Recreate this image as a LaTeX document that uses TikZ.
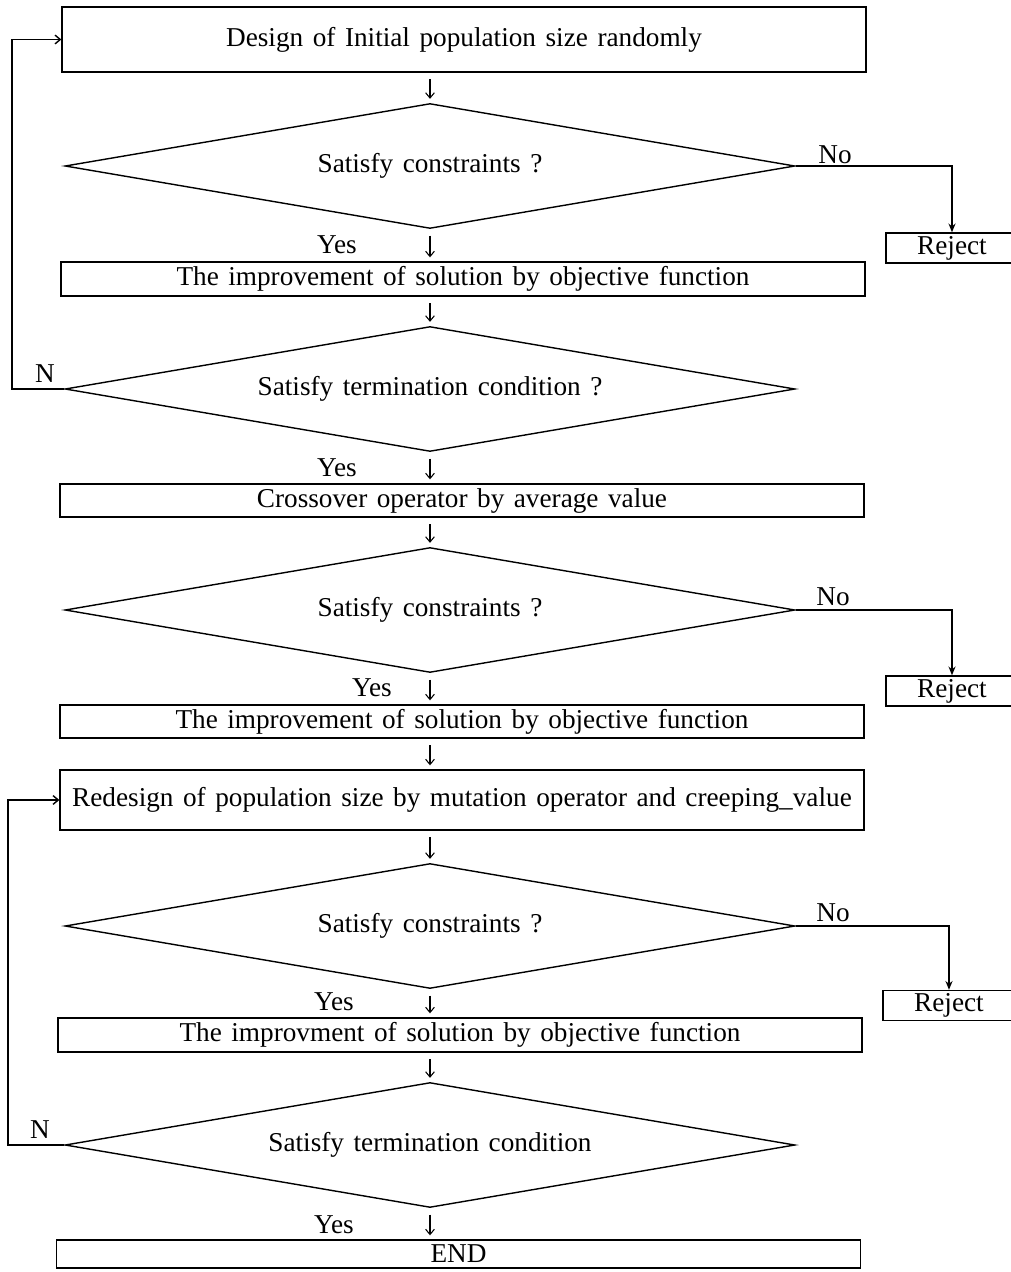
\documentclass[tikz,border=0pt]{standalone}
\usepackage{fontspec}
\setmainfont[WordSpace=1.4]{Liberation Serif}
\usetikzlibrary{arrows.meta,shapes.geometric,positioning}
\newcommand{\flowfont}{\fontsize{15.5}{17}\selectfont}
\tikzset{
  box/.style={draw, rectangle, line width=0.8pt, inner sep=0pt, minimum width=16.08cm, font=\flowfont},
  decision/.style={draw, diamond, shape aspect=5.8, line width=0.8pt, inner sep=0pt, minimum width=14.6cm, minimum height=2.5cm, font=\flowfont},
  reject/.style={draw, rectangle, line width=0.8pt, inner sep=0pt, minimum width=2.64cm, minimum height=0.6cm, font=\flowfont},
  flow/.style={line width=0.6pt, -{Straight Barb[length=3pt,width=5pt]}, shorten <=0.13cm, shorten >=0.08cm},
  link/.style={line width=0.8pt, -{Stealth[length=5pt,width=4pt]}},
  loop/.style={line width=0.8pt, -{Straight Barb[length=3pt,width=5pt]}},
  lbl/.style={font=\flowfont, inner sep=0pt},
}

\begin{document}
\begin{tikzpicture}[x=0.02cm, y=-0.02cm]
    \useasboundingbox[fill=white] (0,0) rectangle (1011,1272);
    \begin{scope}
    \clip (0,0) rectangle (1011,1272);

    % Boxes and decisions, top to bottom
    \node[box, minimum height=1.3cm] (init) at (464,39.5) {Design of Initial population size randomly};
    \node[decision] (cons1) at (430,166) {Satisfy constraints ?};
    \node[reject] (rej1) at (952,248) {Reject};
    \node[box, minimum height=0.68cm] (impr1) at (463,279) {The improvement of solution by objective function};
    \node[decision] (term1) at (430,389) {Satisfy termination condition ?};
    \node[box, minimum height=0.66cm] (cross) at (462,500.5) {Crossover operator by average value};
    \node[decision] (cons2) at (430,610) {Satisfy constraints ?};
    \node[reject] (rej2) at (952,691) {Reject};
    \node[box, minimum height=0.66cm] (impr2) at (462,721.5) {The improvement of solution by objective function};
    \node[box, minimum height=1.2cm] (redes) at (462,800) {Redesign of population size by mutation operator and creeping\_value};
    \node[decision] (cons3) at (430,926) {Satisfy constraints ?};
    \node[reject] (rej3) at (949,1005.5) {Reject};
    \node[box, minimum height=0.68cm] (impr3) at (460,1035) {The improvment of solution by objective function};
    \node[decision] (term2) at (430,1145) {Satisfy termination condition};
    \node[box, minimum height=0.56cm] (end) at (458.5,1254) {END};

    % Downward arrows
    \draw[flow] (init.south -| cons1.north) -- (cons1.north);
    \draw[flow] (cons1.south) -- (cons1.south |- impr1.north);
    \draw[flow] (impr1.south -| term1.north) -- (term1.north);
    \draw[flow] (term1.south) -- (term1.south |- cross.north);
    \draw[flow] (cross.south -| cons2.north) -- (cons2.north);
    \draw[flow] (cons2.south) -- (cons2.south |- impr2.north);
    \draw[flow] (impr2.south -| cons2.north) -- (redes.north -| cons2.north);
    \draw[flow] (redes.south -| cons3.north) -- (cons3.north);
    \draw[flow] (cons3.south) -- (cons3.south |- impr3.north);
    \draw[flow] (impr3.south -| term2.north) -- (term2.north);
    \draw[flow] (term2.south) -- (term2.south |- end.north);

    % Reject branches
    \draw[link] (cons1.east) -| (rej1.north);
    \draw[link] (cons2.east) -| (rej2.north);
    \draw[link] (cons3.east) -| (rej3.north);

    % Loops back
    \coordinate (loopA) at (12,0);
    \coordinate (loopB) at (8,0);
    \draw[loop] (term1.west) -- (term1.west -| loopA) |- (init.west);
    \draw[loop] (term2.west) -- (term2.west -| loopB) |- (redes.west);

    % Labels
    \node[lbl] (no1) at (835,155) {No};
    \node[lbl] (no2) at (833,597) {No};
    \node[lbl] (no3) at (833,913) {No};
    \node[lbl] (n1) at (45,374) {N};
    \node[lbl] (n2) at (40,1130) {N};
    \node[lbl] (yes1) at (337,245) {Yes};
    \node[lbl] (yes2) at (337,468) {Yes};
    \node[lbl] (yes3) at (372,688) {Yes};
    \node[lbl] (yes4) at (334,1002) {Yes};
    \node[lbl] (yes5) at (334,1225) {Yes};
    \end{scope}
\end{tikzpicture}
\end{document}
